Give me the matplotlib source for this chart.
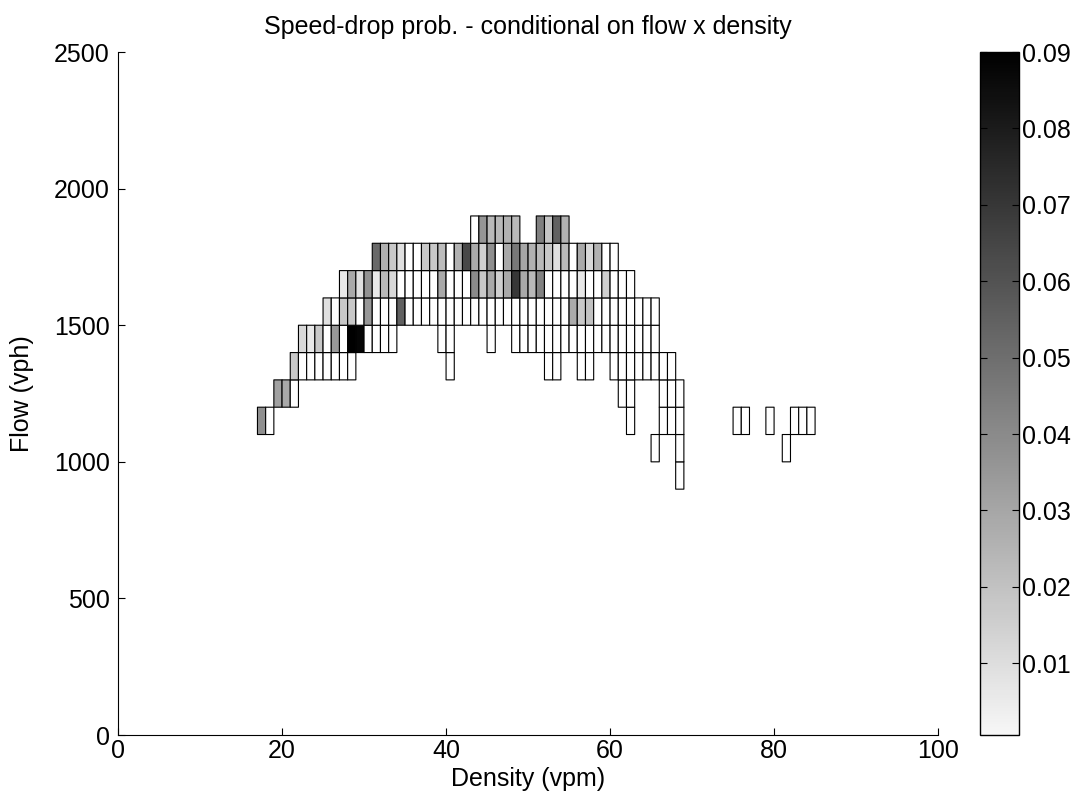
import numpy as np
import matplotlib
matplotlib.use("Agg")
import matplotlib.pyplot as plt
from matplotlib.colors import LinearSegmentedColormap

plt.rcParams['font.family'] = ['Liberation Sans', 'DejaVu Sans']
plt.rcParams['font.size'] = 18

# bin edges
density_edges = np.arange(0, 101, 1)
flow_edges = np.arange(0, 2501, 100)

# speed-drop probability per cell, one list per flow bin (lower edge)
# each entry: (first density bin, values of consecutive bins); 0 = white cell
row_900 = [(68, [0])]
row_1000 = [(65, [0]), (68, [0]), (81, [0])]
row_1100 = [(17, [0.038, 0]), (62, [0]), (66, [0, 0, 0]), (75, [0, 0]), (79, [0]), (82, [0, 0, 0])]
row_1200 = [(19, [0.032, 0.029, 0]), (61, [0, 0]), (66, [0, 0, 0])]
row_1300 = [(21, [0.018, 0, 0, 0, 0, 0, 0, 0]), (40, [0]), (52, [0, 0]), (56, [0, 0]),
            (60, [0, 0, 0, 0, 0, 0, 0, 0])]
row_1400 = [(22, [0.012, 0.006, 0.018, 0, 0.035, 0, 0.090, 0.088, 0, 0, 0, 0]),
            (39, [0, 0]), (45, [0]),
            (48, [0, 0, 0, 0, 0, 0, 0, 0, 0, 0, 0, 0, 0, 0, 0, 0, 0, 0])]
row_1500 = [(25, [0.009, 0, 0.018, 0.018, 0, 0.035, 0, 0, 0, 0.055,
                  0, 0, 0, 0, 0, 0, 0, 0, 0, 0, 0, 0, 0, 0, 0, 0, 0, 0, 0, 0,
                  0.028, 0.018, 0.020, 0, 0, 0, 0, 0, 0, 0, 0])]
row_1600 = [(27, [0.006, 0.029, 0.009, 0.037, 0.006, 0.023, 0.012, 0, 0, 0, 0, 0,
                  0.029, 0, 0, 0, 0.040, 0.018, 0.029, 0.015, 0.029, 0.070, 0.029,
                  0.023, 0.043, 0, 0, 0, 0, 0.006, 0, 0, 0.015, 0, 0, 0])]
row_1700 = [(31, [0.052, 0.026, 0.018, 0.009, 0, 0, 0.018, 0.018, 0.022, 0, 0.026,
                  0.064, 0.029, 0.015, 0.038, 0, 0.029, 0.047, 0.030, 0.026, 0.023,
                  0.018, 0.009, 0.023, 0, 0.029, 0.012, 0.026, 0, 0])]
row_1800 = [(43, [0, 0.036, 0.023, 0.023, 0.026, 0.023]), (51, [0.044, 0.019, 0.055, 0.026])]

rows = {900: row_900, 1000: row_1000, 1100: row_1100, 1200: row_1200, 1300: row_1300,
        1400: row_1400, 1500: row_1500, 1600: row_1600, 1700: row_1700, 1800: row_1800}

grid = np.full((len(flow_edges) - 1, len(density_edges) - 1), np.nan)
for flow, segments in rows.items():
    i = flow // 100
    for start, vals in segments:
        grid[i, start:start + len(vals)] = vals

cmap = LinearSegmentedColormap.from_list('mgray', ['#f7f7f7', '#000000'])
cmap.set_under('white')

fig = plt.figure(figsize=(10.81, 8.08), dpi=100)
ax = fig.add_axes([0.1092, 0.0903, 0.7586, 0.8453])
cax = fig.add_axes([0.9066, 0.0903, 0.0361, 0.8453])

mesh = ax.pcolor(density_edges, flow_edges, np.ma.masked_invalid(grid), cmap=cmap,
                 vmin=0.0006, vmax=0.09, edgecolors='k', linewidth=0.8)

ax.set_xlim(0, 100)
ax.set_ylim(0, 2500)
ax.set_xticks(np.arange(0, 101, 20))
ax.set_yticks(np.arange(0, 2501, 500))
ax.spines['top'].set_visible(False)
ax.spines['right'].set_visible(False)
ax.tick_params(direction='in', length=5, labelsize=18, pad=3)
ax.tick_params(axis='y', pad=6)
ax.set_xlabel('Density (vpm)', fontsize=18, labelpad=3)
ax.set_ylabel('Flow (vph)', fontsize=18)
ax.yaxis.set_label_coords(-0.103, 0.5)
ax.set_title('Speed-drop prob. - conditional on flow x density', fontsize=18, pad=13)

cb = fig.colorbar(mesh, cax=cax)
cb.set_ticks(np.arange(0.01, 0.091, 0.01))
cb.set_ticklabels(['%.2f' % t for t in np.arange(0.01, 0.091, 0.01)])
cax.tick_params(direction='in', left=True, right=True, length=5, labelsize=18, pad=2)
cb.outline.set_linewidth(1.0)

fig.savefig('out.png', dpi=100)
